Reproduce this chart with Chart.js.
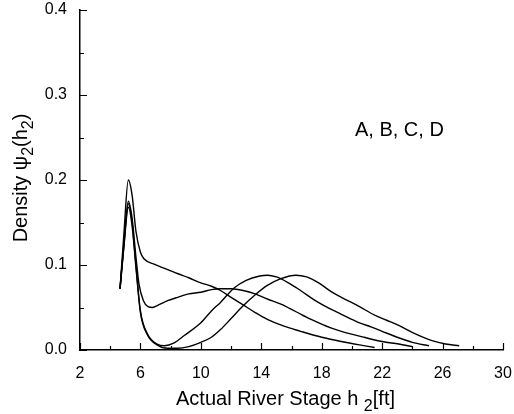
<!DOCTYPE html>
<html>
<head>
<meta charset="utf-8">
<script src="https://cdn.jsdelivr.net/npm/chart.js@4.4.1/dist/chart.umd.min.js"></script>
<style>
  html, body { margin: 0; padding: 0; background: #fff; }
  canvas { display: block; }
</style>
</head>
<body>
<canvas id="chart" width="514" height="414"></canvas>
<script>
// curve A: highest spike, then slow decline
const stageA = [4.65, 4.9, 5.2, 5.45, 5.7, 6.0, 6.25, 6.9, 7.6, 8.45, 9.2, 10, 10.7, 11.3, 12, 12.8, 13.6, 14.4, 15.5, 16.6, 18, 19.3, 20.5, 21.5];
const densA  = [0.072, 0.135, 0.200, 0.182, 0.140, 0.115, 0.107, 0.101, 0.096, 0.090, 0.085, 0.079, 0.075, 0.070, 0.062, 0.053, 0.044, 0.036, 0.028, 0.022, 0.015, 0.010, 0.006, 0.003];
// curve B: dip near 7 ft, broad hump near 12 ft
const stageB = [4.65, 4.9, 5.2, 5.45, 5.7, 5.9, 6.2, 6.5, 6.8, 7.2, 7.8, 8.45, 9.2, 10, 10.7, 11.3, 12, 12.8, 13.6, 14.4, 15.3, 16.3, 17.3, 18.6, 19.3, 20.8, 22, 23.1, 24];
const densB  = [0.072, 0.125, 0.175, 0.155, 0.110, 0.078, 0.058, 0.051, 0.050, 0.053, 0.058, 0.062, 0.066, 0.068, 0.071, 0.072, 0.072, 0.070, 0.066, 0.060, 0.054, 0.045, 0.036, 0.026, 0.022, 0.015, 0.010, 0.007, 0.004];
// curve C: second peak near 14 ft
const stageC = [4.65, 4.9, 5.2, 5.45, 5.7, 6.0, 6.46, 7.1, 7.6, 8.2, 8.9, 10, 10.7, 11.3, 12.2, 13, 13.9, 14.4, 15, 15.8, 16.6, 17.5, 18.6, 19.3, 20.5, 21.3, 22, 23, 24, 25.1];
const densC  = [0.072, 0.122, 0.172, 0.150, 0.100, 0.046, 0.019, 0.007, 0.005, 0.008, 0.017, 0.032, 0.046, 0.056, 0.073, 0.082, 0.087, 0.088, 0.086, 0.079, 0.070, 0.059, 0.048, 0.042, 0.032, 0.027, 0.022, 0.015, 0.009, 0.005];
// curve D: second peak near 16 ft
const stageD = [4.65, 4.9, 5.2, 5.45, 5.7, 6.0, 6.46, 7.1, 7.8, 8.45, 9.2, 10, 10.7, 11.3, 12, 12.8, 13.6, 14.4, 15.3, 16.3, 17, 17.8, 18.6, 19.3, 20.5, 21.5, 22.3, 23.1, 24.2, 25.3, 26.2, 27.1];
const densD  = [0.072, 0.120, 0.168, 0.146, 0.098, 0.044, 0.018, 0.006, 0.002, 0.002, 0.004, 0.009, 0.015, 0.024, 0.037, 0.052, 0.065, 0.076, 0.084, 0.088, 0.086, 0.079, 0.069, 0.062, 0.051, 0.041, 0.035, 0.029, 0.019, 0.011, 0.007, 0.005];

const xMajor = [2, 6, 10, 14, 18, 22, 26, 30];
const xMinor = [4, 8, 12, 16, 20, 24, 28];
const yMajor = [0, 0.1, 0.2, 0.3, 0.4];
const yMinor = [0.05, 0.15, 0.25, 0.35];
const curveNote = "A, B, C, D";

const toPoints = (xs, ys) => xs.map((x, i) => ({ x: x, y: ys[i] }));

const lineStyle = {
  borderColor: "#000",
  borderWidth: 1.4,
  pointRadius: 0,
  fill: false,
  cubicInterpolationMode: "monotone",
};

// stop the scales from pushing the plot area in for label overhang
const noOverhang = s => { s.paddingTop = 0; s.paddingBottom = 0; s.paddingLeft = 0; s.paddingRight = 0; };

// inward tick marks, axis titles with subscripts, and the curve note
const decorations = {
  id: "decorations",
  afterDraw(chart) {
    const ctx = chart.ctx;
    const xs = chart.scales.x;
    const ys = chart.scales.y;
    const area = chart.chartArea;
    ctx.save();
    ctx.strokeStyle = "#000";
    ctx.lineWidth = 1.2;
    ctx.beginPath();
    xMajor.forEach(v => { const p = Math.round(xs.getPixelForValue(v)) + 0.5; ctx.moveTo(p, area.bottom); ctx.lineTo(p, area.bottom - 7); });
    xMinor.forEach(v => { const p = Math.round(xs.getPixelForValue(v)) + 0.5; ctx.moveTo(p, area.bottom); ctx.lineTo(p, area.bottom - 4); });
    yMajor.forEach(v => { const p = Math.round(ys.getPixelForValue(v)) + 0.5; ctx.moveTo(area.left, p); ctx.lineTo(area.left + 7, p); });
    yMinor.forEach(v => { const p = Math.round(ys.getPixelForValue(v)) + 0.5; ctx.moveTo(area.left, p); ctx.lineTo(area.left + 4, p); });
    ctx.stroke();

    ctx.fillStyle = "#000";
    ctx.textBaseline = "alphabetic";
    ctx.textAlign = "left";
    const big = "20px 'Liberation Sans', Arial, sans-serif";
    const small = "16px 'Liberation Sans', Arial, sans-serif";

    // pieces: [text, isSubscript]
    const drawParts = (parts, x0, y0) => {
      let x = x0;
      parts.forEach(([t, sub]) => {
        ctx.font = sub ? small : big;
        ctx.fillText(t, x, sub ? y0 + 6 : y0);
        x += ctx.measureText(t).width;
      });
    };
    const widthOf = parts => parts.reduce((w, [t, sub]) => { ctx.font = sub ? small : big; return w + ctx.measureText(t).width; }, 0);

    const xParts = [["Actual River Stage h ", false], ["2", true], ["[ft]", false]];
    const xw = widthOf(xParts);
    drawParts(xParts, (area.left + area.right) / 2 - 6 - xw / 2, 405);

    const yParts = [["Density ψ", false], ["2", true], ["(h", false], ["2", true], [")", false]];
    const yw = widthOf(yParts);
    ctx.save();
    ctx.translate(27, (area.top + area.bottom) / 2 - 2);
    ctx.rotate(-Math.PI / 2);
    drawParts(yParts, -yw / 2, 0);
    ctx.restore();

    ctx.font = big;
    ctx.textBaseline = "middle";
    ctx.fillText(curveNote, xs.getPixelForValue(20.2), ys.getPixelForValue(0.258));
    ctx.restore();
  },
};

new Chart(document.getElementById("chart"), {
  type: "line",
  data: {
    datasets: [
      { label: "A", data: toPoints(stageA, densA), ...lineStyle },
      { label: "B", data: toPoints(stageB, densB), ...lineStyle },
      { label: "C", data: toPoints(stageC, densC), ...lineStyle },
      { label: "D", data: toPoints(stageD, densD), ...lineStyle },
    ],
  },
  options: {
    responsive: false,
    animation: false,
    layout: { padding: { top: 10, right: 11, left: 0, bottom: 0 } },
    plugins: { legend: { display: false }, tooltip: { enabled: false } },
    scales: {
      x: {
        type: "linear",
        min: 2,
        max: 30,
        afterFit: s => { s.height = 64; noOverhang(s); },
        afterBuildTicks: s => { s.ticks = xMajor.map(v => ({ value: v })); },
        grid: { display: false, drawTicks: false },
        border: { display: true, color: "#000", width: 1.5 },
        ticks: {
          color: "#000",
          padding: 14,
          maxRotation: 0,
          font: { family: "'Liberation Sans', Arial, sans-serif", size: 16 },
        },
      },
      y: {
        type: "linear",
        min: 0,
        max: 0.4,
        afterFit: s => { s.width = 80; noOverhang(s); },
        afterBuildTicks: s => { s.ticks = yMajor.map(v => ({ value: v })); },
        grid: { display: false, drawTicks: false },
        border: { display: true, color: "#000", width: 1.5 },
        ticks: {
          color: "#000",
          padding: 13,
          callback: v => v.toFixed(1),
          font: { family: "'Liberation Sans', Arial, sans-serif", size: 16 },
        },
      },
    },
  },
  plugins: [decorations],
});
</script>
</body>
</html>
